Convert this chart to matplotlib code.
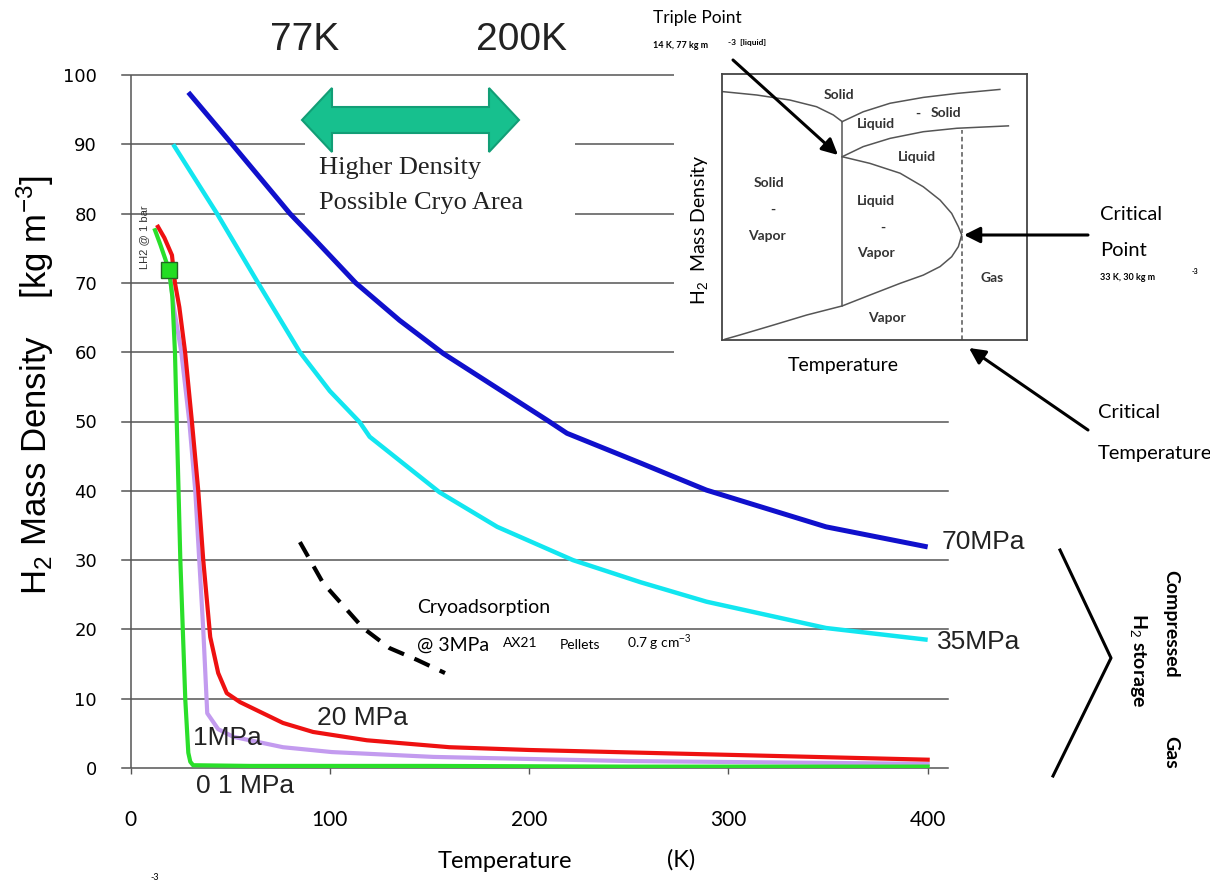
import matplotlib
matplotlib.use("Agg")
import matplotlib.pyplot as plt
from matplotlib.patches import Rectangle, Polygon

plt.rcParams["mathtext.fontset"] = "custom"
plt.rcParams["mathtext.rm"] = "Liberation Sans"
plt.rcParams["mathtext.it"] = "Liberation Sans:italic"

# ---- H2 density vs temperature ----
temp_70 = [29, 51, 80, 92, 113, 135, 157, 209, 219, 256, 289, 349, 400]
dens_70 = [97.5, 90, 80, 76.4, 70, 64.6, 59.8, 50.2, 48.3, 44, 40.1, 34.8, 31.9]

temp_35 = [21.4, 43.4, 64, 85, 100, 115, 120, 155, 184, 222, 256, 289, 349, 400]
dens_35 = [90, 80, 70, 60, 54.4, 49.9, 47.8, 39.8, 34.8, 30, 26.8, 24, 20.2, 18.5]

temp_20 = [13.8, 17, 20.8, 22.3, 24.5, 27.4, 30.8, 34, 36.5, 40, 44, 48.3, 55,
           76.5, 91.6, 118.6, 160, 200, 300, 400]
dens_20 = [78.1, 76.5, 74, 70, 66.5, 60, 50, 40, 30, 18.9, 13.7, 10.8, 9.5,
           6.5, 5.2, 4.0, 3.0, 2.6, 1.9, 1.2]

temp_1 = [19.3, 22, 25.5, 29.5, 32.5, 34.5, 36.5, 38.5, 44, 51.6, 76.5, 101, 152, 250, 400]
dens_1 = [71.9, 66, 60, 50, 40, 30, 20, 7.9, 5.6, 4.5, 3.0, 2.3, 1.6, 1.0, 0.6]

temp_01 = [12.3, 15, 19.3, 21, 22.3, 25, 27.5, 29, 30, 31.4, 60, 150, 250, 400]
dens_01 = [77.6, 75.5, 71.9, 68, 60, 30, 9.8, 2.2, 0.9, 0.4, 0.3, 0.3, 0.2, 0.2]

temp_cryo = [85, 96.6, 116.7, 130, 143.8, 157.8]
dens_cryo = [32.6, 26.7, 20.2, 17.3, 15.6, 13.7]

lh2_temp, lh2_dens = 19.3, 71.9

xticks = [0, 100, 200, 300, 400]
yticks = list(range(0, 101, 10))

# ---- schematic phase diagram (inset, unit box) ----
solid_top_l_u = [0.0, 0.114, 0.223, 0.310, 0.365, 0.394]
solid_top_l_v = [0.934, 0.921, 0.902, 0.877, 0.846, 0.821]
solid_top_r_u = [0.394, 0.463, 0.551, 0.660, 0.770, 0.911]
solid_top_r_v = [0.821, 0.858, 0.890, 0.912, 0.927, 0.942]
melt_u = [0.394, 0.463, 0.551, 0.660, 0.770, 0.939]
melt_v = [0.689, 0.727, 0.758, 0.783, 0.796, 0.805]
dome_u = [0.394, 0.485, 0.584, 0.660, 0.715, 0.753, 0.775, 0.786, 0.775, 0.753,
          0.715, 0.660, 0.584, 0.485, 0.394, 0.278, 0.168, 0.059, 0.010]
dome_v = [0.689, 0.664, 0.627, 0.576, 0.526, 0.476, 0.426, 0.395, 0.351, 0.313,
          0.276, 0.244, 0.213, 0.169, 0.128, 0.094, 0.056, 0.019, 0.003]
triple_u = 0.394
crit_u = 0.786

W, H = 1210, 883
fig = plt.figure(figsize=(W / 100, H / 100), dpi=100)


def fig_box(x0, y0, x1, y1):
    # pixel box, origin top-left -> figure fraction rect
    return [x0 / W, 1 - y1 / H, (x1 - x0) / W, (y1 - y0) / H]


GRID = "#555555"
SANS = "Liberation Sans"
HUM = "Lato"

# ---- main chart ----
ax = fig.add_axes(fig_box(122, 75, 948, 768))
ax.set_xlim(-4.27, 410.2)
ax.set_ylim(0, 100)
for s in ax.spines.values():
    s.set_visible(False)
for y in yticks:
    ax.axhline(y, color=GRID, lw=1.1, zorder=1, clip_on=False)
ax.axvline(0, color=GRID, lw=1.1, zorder=1)

ax.set_xticks(xticks)
ax.set_xticklabels([str(t) for t in xticks], fontfamily=HUM, fontsize=15)
ax.set_yticks(yticks)
ax.set_yticklabels([str(t) for t in yticks], fontfamily="DejaVu Sans", fontsize=13)
ax.tick_params(axis="x", length=4.3, width=1, color=GRID, pad=26)
ax.tick_params(axis="y", length=0, pad=18)

ax.plot(temp_70, dens_70, color="#1010CC", lw=3.6, zorder=3, solid_capstyle="butt")
ax.plot(temp_35, dens_35, color="#12E6F0", lw=3.2, zorder=3, solid_capstyle="butt")
ax.plot(temp_1, dens_1, color="#C39BEF", lw=3, zorder=3)
ax.plot(temp_01, dens_01, color="#2ADF2A", lw=3, zorder=4)
ax.plot(temp_20, dens_20, color="#EE1111", lw=3, zorder=5)
ax.plot(temp_cryo, dens_cryo, color="black", lw=3, ls=(0, (4, 2.7)), zorder=3)
ax.plot([lh2_temp], [lh2_dens], marker="s", ms=11, mfc="#22DD22", mec="#226622",
        mew=1, zorder=6)

# ---- background overlay: white areas that interrupt grid lines ----
bg = fig.add_axes([0, 0, 1, 1], zorder=1)
bg.set_xlim(0, W)
bg.set_ylim(H, 0)
bg.axis("off")
bg.patch.set_visible(False)
bg.add_patch(Rectangle((674, 0), W - 674, 395, fc="white", ec="none"))
bg.add_patch(Rectangle((305, 138), 270, 84, fc="white", ec="none"))

# ---- inset phase diagram ----
ins = fig.add_axes(fig_box(722, 74, 1027, 340), zorder=2)
ins.set_xlim(0, 1)
ins.set_ylim(0, 1)
ins.set_xticks([])
ins.set_yticks([])
for s in ins.spines.values():
    s.set_color("#444444")
    s.set_linewidth(1.3)
pc = "#555555"
ins.plot(solid_top_l_u, solid_top_l_v, color=pc, lw=1.1)
ins.plot(solid_top_r_u, solid_top_r_v, color=pc, lw=1.1)
ins.plot(melt_u, melt_v, color=pc, lw=1.1)
ins.plot(dome_u, dome_v, color=pc, lw=1.1)
ins.plot([triple_u, triple_u], [0.128, 0.821], color=pc, lw=1.1)
ins.plot([crit_u, crit_u], [0, 0.79], color=pc, lw=1.1, ls=(0, (3, 2)))
ilab = dict(fontfamily=HUM, fontsize=10, fontweight="bold", color="#333333",
            ha="center", va="center")
ins.text(0.384, 0.921, "Solid", **ilab)
ins.text(0.505, 0.812, "Liquid", **ilab)
ins.text(0.643, 0.850, "-", **ilab)
ins.text(0.734, 0.853, "Solid", **ilab)
ins.text(0.639, 0.688, "Liquid", **ilab)
ins.text(0.154, 0.590, "Solid", **ilab)
ins.text(0.167, 0.489, "-", **ilab)
ins.text(0.148, 0.391, "Vapor", **ilab)
ins.text(0.505, 0.523, "Liquid", **ilab)
ins.text(0.528, 0.421, "-", **ilab)
ins.text(0.505, 0.327, "Vapor", **ilab)
ins.text(0.885, 0.233, "Gas", **ilab)
ins.text(0.541, 0.083, "Vapor", **ilab)

# ---- foreground overlay: text and arrows in pixel coords ----
fg = fig.add_axes([0, 0, 1, 1], zorder=3)
fg.set_xlim(0, W)
fg.set_ylim(H, 0)
fg.axis("off")
fg.patch.set_visible(False)

# double arrow
x0, x1, yc, bh, hh, hl = 302, 519, 120, 13, 32, 30
arrow_pts = [(x0, yc), (x0 + hl, yc - hh), (x0 + hl, yc - bh), (x1 - hl, yc - bh),
             (x1 - hl, yc - hh), (x1, yc), (x1 - hl, yc + hh), (x1 - hl, yc + bh),
             (x0 + hl, yc + bh), (x0 + hl, yc + hh)]
fg.add_patch(Polygon(arrow_pts, closed=True, fc="#17C08E", ec="#129E76", lw=1.5))

fg.text(305, 40, "77K", fontfamily=SANS, fontsize=28, ha="center", va="center", color="#222222")
fg.text(521, 40, "200K", fontfamily=SANS, fontsize=28, ha="center", va="center", color="#222222")
fg.text(319, 168, "Higher Density", fontfamily="Liberation Serif", fontsize=19,
        ha="left", va="center", color="#222222")
fg.text(319, 203, "Possible Cryo Area", fontfamily="Liberation Serif", fontsize=19,
        ha="left", va="center", color="#222222")

# inset captions
fg.text(653, 18, "Triple Point", fontfamily=HUM, fontsize=12.5, ha="left", va="center")
fg.text(653, 45, "14 K, 77 kg m", fontfamily=HUM, fontsize=6.5, fontweight="bold",
        ha="left", va="center")
fg.text(728, 43, "-3  [liquid]", fontfamily=HUM, fontsize=6, fontweight="bold",
        ha="left", va="center")
fg.text(843, 366, "Temperature", fontfamily=HUM, fontsize=14, ha="center", va="center")
fg.text(700, 230, "H$_2$  Mass Density", fontfamily=HUM, fontsize=14, rotation=90,
        ha="center", va="center")
fg.text(1100, 214, "Critical", fontfamily=HUM, fontsize=14.5, ha="left", va="center")
fg.text(1100, 250, "Point", fontfamily=HUM, fontsize=14.5, ha="left", va="center")
fg.text(1100, 277, "33 K, 30 kg m", fontfamily=HUM, fontsize=6.5, fontweight="bold",
        ha="left", va="center")
fg.text(1192, 272, "-3", fontfamily=HUM, fontsize=5, fontweight="bold",
        ha="left", va="center")
fg.text(1098, 413, "Critical", fontfamily=HUM, fontsize=14.5, ha="left", va="center")
fg.text(1098, 453, "Temperature", fontfamily=HUM, fontsize=14.5, ha="left", va="center")

arr = dict(arrowstyle="-|>", color="black", lw=2.2, mutation_scale=24,
           shrinkA=0, shrinkB=0)
fg.annotate("", xy=(838, 155), xytext=(733, 60), arrowprops=arr)
fg.annotate("", xy=(964, 235), xytext=(1088, 235), arrowprops=arr)
fg.annotate("", xy=(969, 348), xytext=(1088, 430), arrowprops=arr)

# curve labels
cl = dict(fontfamily=SANS, fontsize=19, color="#222222", va="center")
fg.text(942, 542, "70MPa", ha="left", **cl)
fg.text(937, 642, "35MPa", ha="left", **cl)
fg.text(362, 718, "20 MPa", ha="center", **cl)
fg.text(227, 738, "1MPa", ha="center", **cl)
fg.text(245, 786, "0 1 MPa", ha="center", **cl)
fg.text(144, 237, "LH2 @ 1 bar", fontfamily=SANS, fontsize=8, rotation=90,
        ha="center", va="center", color="#333333")

# cryoadsorption note
fg.text(417, 607, "Cryoadsorption", fontfamily=HUM, fontsize=14, ha="left", va="center")
fg.text(417, 645, "@ 3MPa", fontfamily=HUM, fontsize=14, ha="left", va="center")
fg.text(503, 643, "AX21", fontfamily=HUM, fontsize=10, ha="left", va="center")
fg.text(560, 645, "Pellets", fontfamily=HUM, fontsize=10, ha="left", va="center")
fg.text(627, 643, "0.7 g cm$^{-3}$", fontfamily=HUM, fontsize=10, ha="left", va="center")

# compressed gas bracket
fg.plot([1060, 1111, 1053], [550, 658, 776], color="black", lw=2.2)
rl = dict(fontfamily=HUM, fontsize=14, fontweight="bold", rotation=-90,
          ha="center", va="center")
fg.text(1171, 624, "Compressed", **rl)
fg.text(1171, 752, "Gas", **rl)
fg.text(1138, 660, "H$_2$ storage", **rl)

# axis titles
fg.text(35, 385, "H$_2$ Mass Density    [kg m$^{-3}$]", fontfamily=SANS, fontsize=25,
        rotation=90, ha="center", va="center")
fg.text(505, 862, "Temperature", fontfamily=HUM, fontsize=17, ha="center", va="center")
fg.text(681, 860, "(K)", fontfamily=HUM, fontsize=17, ha="center", va="center")
fg.text(155, 877, "-3", fontfamily=HUM, fontsize=6.5, ha="center", va="center")

fig.savefig("out.png", dpi=100)
